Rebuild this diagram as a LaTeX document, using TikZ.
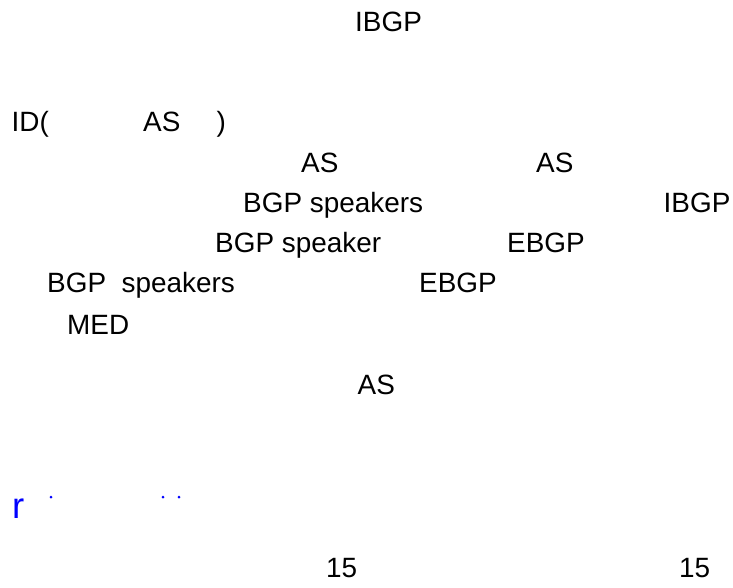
\documentclass[tikz,border=0pt]{standalone}
\usepackage{fontspec}
\setmainfont{Liberation Sans}
\tikzset{word/.style={anchor=base west, inner sep=0pt, font=\fontsize{27.9}{33}\selectfont}}
\begin{document}
\begin{tikzpicture}[x=1pt,y=-1pt]
            % Page size
            \useasboundingbox (0,0) rectangle (733,588);

            % Draw the words of the page
            \foreach \x/\y/\label [count=\i] in {355/32/IBGP, 11.5/132/ID(, 143/132/AS, 216.5/132/), 301/173/AS, 536/173/AS, 243/212/BGP speakers, 663.5/212/IBGP, 215/252/BGP speaker, 507/252/EBGP, 47/292/{BGP\ \ speakers}, 419/292/EBGP, 67/334/MED, 357.5/394/AS, 326/577/15, 679/577/15} {
                \node[word] (w\i) at (\x,\y) {\label};
            }

            % Blue line
            \node[word, blue, font=\fontsize{36.5}{40}\selectfont] (r) at (12,518) {r};
            \foreach \x in {51, 163, 179} {
                \fill[blue] (\x,497) circle (1.5);
            }
        \end{tikzpicture}
\end{document}
